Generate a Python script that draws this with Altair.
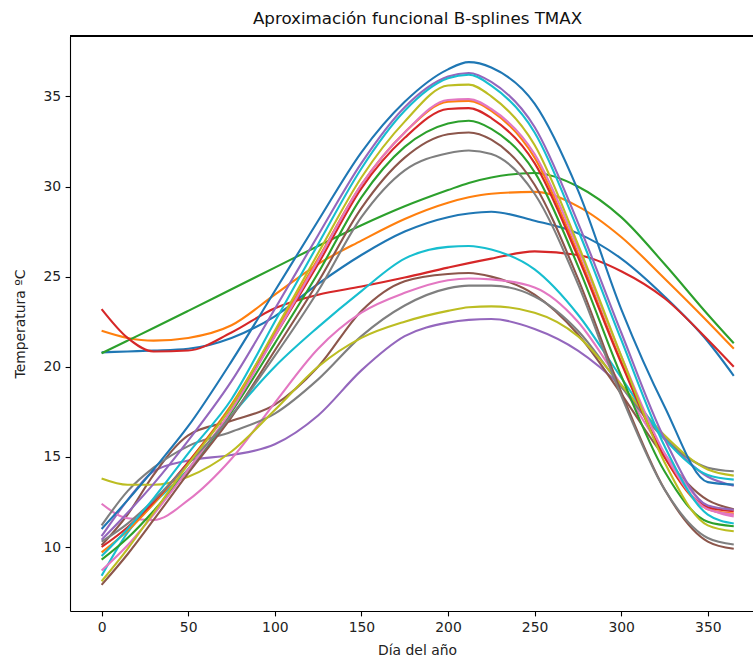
import altair as alt
import pandas as pd

dias = [0, 15, 30, 50, 75, 100, 125, 150, 175, 200, 212, 225, 250, 275, 300, 325, 350, 365]

# First colour cycle (C0..C9)
s00 = [20.8, 20.85, 20.9, 21.0, 21.6, 22.8, 24.6, 26.2, 27.5, 28.3, 28.5, 28.6, 28.1, 27.4, 26.0, 23.9, 21.4, 19.5]
s01 = [22.0, 21.6, 21.45, 21.6, 22.3, 24.0, 25.7, 27.0, 28.2, 29.1, 29.4, 29.6, 29.7, 28.9, 27.2, 24.9, 22.5, 21.0]
s02 = [20.75, 21.45, 22.15, 23.1, 24.3, 25.5, 26.7, 27.85, 28.9, 29.8, 30.2, 30.5, 30.75, 30.0, 28.3, 25.7, 22.9, 21.3]
s03 = [23.2, 21.6, 20.85, 20.9, 21.9, 23.25, 24.0, 24.45, 24.95, 25.5, 25.75, 26.0, 26.4, 26.2, 25.3, 23.8, 21.5, 20.0]
s04 = [10.6, 12.6, 14.2, 14.8, 15.1, 15.7, 17.3, 19.8, 21.7, 22.45, 22.6, 22.65, 22.1, 20.9, 18.9, 16.1, 13.9, 13.4]
s05 = [10.1, 11.8, 14.0, 16.2, 17.0, 17.9, 20.0, 23.1, 24.75, 25.15, 25.2, 25.0, 24.0, 21.8, 18.5, 15.0, 12.6, 12.1]
s06 = [12.4, 11.6, 11.5, 12.6, 14.9, 18.0, 21.0, 23.0, 24.1, 24.8, 24.9, 24.85, 24.4, 22.5, 19.0, 15.2, 12.2, 11.7]
s07 = [11.2, 13.1, 14.4, 15.6, 16.4, 17.4, 19.3, 21.7, 23.4, 24.35, 24.5, 24.5, 23.9, 22.0, 18.9, 16.0, 14.4, 14.2]
s08 = [13.8, 13.45, 13.45, 13.9, 15.3, 17.6, 20.0, 21.6, 22.5, 23.1, 23.3, 23.35, 23.0, 21.7, 19.0, 16.2, 14.3, 13.96]
s09 = [8.4, 10.8, 12.4, 14.3, 17.3, 20.0, 22.2, 24.2, 26.0, 26.65, 26.7, 26.5, 25.4, 22.9, 19.4, 16.0, 14.0, 13.74]
# Second colour cycle (C0..C9)
s10 = [11.0, 12.6, 14.3, 16.7, 20.3, 24.2, 28.1, 31.9, 34.7, 36.5, 36.9, 36.6, 34.6, 29.8, 23.2, 17.8, 13.6, 13.46]
s11 = [9.7, 10.9, 12.4, 14.7, 17.9, 21.9, 26.0, 30.1, 33.0, 34.7, 34.75, 34.2, 31.6, 26.3, 20.3, 15.0, 12.1, 11.85]
s12 = [9.3, 10.5, 12.0, 14.3, 17.5, 21.3, 25.2, 29.4, 32.2, 33.5, 33.65, 33.2, 30.8, 25.6, 19.5, 14.2, 11.4, 11.15]
s13 = [10.0, 11.1, 12.5, 14.7, 17.8, 21.7, 25.7, 29.9, 32.7, 34.3, 34.35, 33.8, 31.3, 26.1, 20.2, 15.0, 12.2, 11.98]
s14 = [10.4, 11.9, 13.5, 15.9, 19.2, 23.2, 27.3, 31.3, 34.4, 36.1, 36.3, 35.8, 33.3, 28.0, 21.9, 16.0, 12.3, 12.07]
s15 = [7.9, 9.6, 11.5, 14.1, 17.2, 20.9, 24.7, 28.8, 31.6, 32.9, 33.0, 32.6, 30.1, 24.9, 18.6, 13.2, 10.3, 9.9]
s16 = [8.7, 10.1, 11.8, 14.3, 17.6, 21.7, 25.9, 30.1, 33.0, 34.8, 34.85, 34.3, 31.8, 26.6, 20.6, 15.2, 12.1, 11.8]
s17 = [10.3, 11.3, 12.6, 14.6, 17.3, 20.6, 24.2, 28.3, 30.9, 31.85, 32.0, 31.8, 29.6, 24.6, 18.4, 13.2, 10.5, 10.14]
s18 = [8.1, 9.9, 11.9, 14.6, 17.8, 22.0, 26.3, 30.5, 33.6, 35.6, 35.65, 35.0, 32.3, 26.8, 20.6, 14.7, 11.2, 10.87]
s19 = [9.5, 11.0, 12.7, 15.2, 18.2, 22.5, 26.8, 31.0, 34.2, 36.0, 36.2, 35.6, 33.0, 27.6, 21.5, 15.6, 11.8, 11.3]

series = [s00, s01, s02, s03, s04, s05, s06, s07, s08, s09,
          s10, s11, s12, s13, s14, s15, s16, s17, s18, s19]
series_ids = ["s%02d" % i for i in range(len(series))]

tab10 = ["#1f77b4", "#ff7f0e", "#2ca02c", "#d62728", "#9467bd",
         "#8c564b", "#e377c2", "#7f7f7f", "#bcbd22", "#17becf"]
colors = [tab10[i % 10] for i in range(len(series))]

x_ticks = [0, 50, 100, 150, 200, 250, 300, 350]
y_ticks = [10, 15, 20, 25, 30, 35]

rows = []
for sid, vals in zip(series_ids, series):
    for d, v in zip(dias, vals):
        rows.append({"serie": sid, "dia": d, "temp": v})
df = pd.DataFrame(rows)

FONT = "DejaVu Sans"
W, H = 683, 575

lines = alt.Chart(df).mark_line(interpolate="monotone", strokeWidth=2.1).encode(
    x=alt.X("dia:Q",
            scale=alt.Scale(domain=[-18.25, 376.1], nice=False, zero=False),
            axis=alt.Axis(values=x_ticks, title="Día del año", format="d",
                          titleX=347, titleY=32, titleAlign="center",
                          titleBaseline="top")),
    y=alt.Y("temp:Q",
            scale=alt.Scale(domain=[6.45, 38.35], nice=False, zero=False),
            axis=alt.Axis(values=y_ticks, title="Temperatura ºC", format="d",
                          titleX=-50, titleY=287.5, titleAlign="center",
                          titleBaseline="middle", titleAngle=270)),
    color=alt.Color("serie:N", scale=alt.Scale(domain=series_ids, range=colors),
                    legend=None),
    order=alt.Order("dia:Q"),
)

top_border = alt.Chart(df).mark_rule(color="black", strokeWidth=1.1).encode(
    x=alt.value(0), x2=alt.value(W), y=alt.value(0)
)

chart = alt.layer(lines, top_border).properties(
    width=W,
    height=H,
    padding={"left": 70, "top": 36, "right": 0, "bottom": 50},
    autosize=alt.AutoSizeParams(type="none"),
    title=alt.TitleParams("Aproximación funcional B-splines TMAX", font=FONT,
                          fontSize=16.7, fontWeight="normal", anchor="middle",
                          frame="group", dx=6, dy=13, offset=8,
                          baseline="alphabetic", color="#111"),
).configure(background="white").configure_view(stroke=None).configure_axis(
    grid=False, domainColor="#000", domainWidth=1.1, tickColor="#000",
    tickWidth=1.1, tickSize=4.9, labelPadding=4.5, labelFont=FONT,
    labelFontSize=13.9, labelColor="#222", titleFont=FONT, titleFontSize=13.9,
    titleFontWeight="normal", titleColor="#222"
)

chart.save("out.html", embed_options={"renderer": "svg", "actions": False})
